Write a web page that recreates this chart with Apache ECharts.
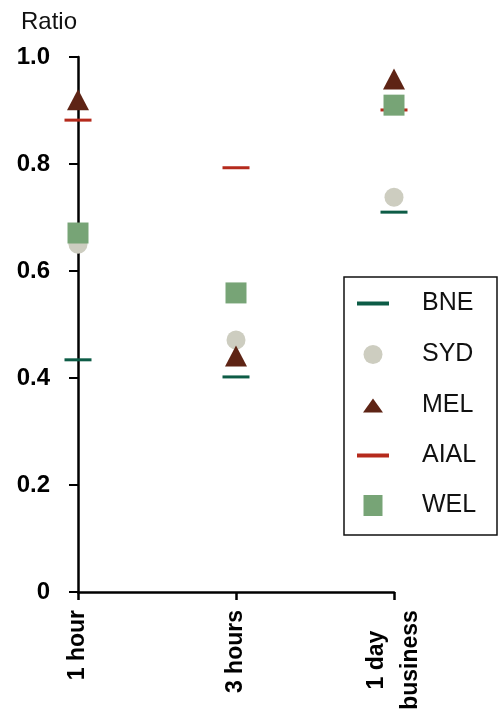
<!DOCTYPE html>
<html>
<head>
<meta charset="utf-8">
<script src="https://cdn.jsdelivr.net/npm/echarts@6/dist/echarts.min.js"></script>
<style>
  html, body { margin: 0; padding: 0; background: #fff; }
  #chart { width: 500px; height: 713px; }
</style>
</head>
<body>
<div id="chart"></div>
<script>
// Response-time ratios per site
const categories = ['1 hour', '3 hours', '1 day\nbusiness'];
const yTicks = [0, 0.2, 0.4, 0.6, 0.8, 1.0];
const BNE  = [0.434, 0.402, 0.710];
const SYD  = [0.650, 0.471, 0.738];
const MEL  = [0.920, 0.441, 0.959];
const AIAL = [0.882, 0.793, 0.901];
const WEL  = [0.671, 0.559, 0.910];

const colors = {
  BNE: '#0d5c46',
  SYD: '#cdcdc0',
  MEL: '#5e2415',
  AIAL: '#b52a1c',
  WEL: '#77a476'
};

const FONT = 'Arial, "Liberation Sans", sans-serif';

// marker style per series, plus legend icon shape and size
const seriesDefs = [
  { name: 'BNE',  data: BNE,  symbol: 'rect',     size: [27, 3],  icon: 'rect',     iw: 32, ih: 4 },
  { name: 'SYD',  data: SYD,  symbol: 'circle',   size: 19,       icon: 'circle',   iw: 19, ih: 19 },
  { name: 'MEL',  data: MEL,  symbol: 'triangle', size: [22, 21], icon: 'triangle', iw: 20, ih: 14 },
  { name: 'AIAL', data: AIAL, symbol: 'rect',     size: [27, 3],  icon: 'rect',     iw: 32, ih: 4 },
  { name: 'WEL',  data: WEL,  symbol: 'rect',     size: 21,       icon: 'rect',     iw: 19, ih: 21 }
];

// legend rows: icon column centre, text column start, row centres
const legendIconX = 373;
const legendTextX = 422;
const legendRowY = [304, 355, 406, 456, 506];

const legends = seriesDefs.map((d, i) => ({
  data: [d.name],
  left: legendIconX - d.iw / 2,
  top: legendRowY[i] - 13,
  padding: 0,
  itemWidth: d.iw,
  itemHeight: d.ih,
  icon: d.icon,
  selectedMode: false,
  formatter: '{t|{name}}',
  textStyle: {
    rich: {
      t: {
        fontFamily: FONT,
        fontSize: 25,
        lineHeight: 26,
        color: '#111',
        padding: [0, 0, 0, legendTextX - 5 - (legendIconX + d.iw / 2)]
      }
    }
  }
}));

const chart = echarts.init(document.getElementById('chart'), null, { renderer: 'canvas' });

chart.setOption({
  animation: false,
  backgroundColor: '#fff',
  title: {
    text: 'Ratio',
    left: 16,
    top: 5,
    textStyle: { fontFamily: FONT, fontSize: 24, fontWeight: 'normal', color: '#111' }
  },
  grid: { left: 78, right: 106, top: 57, bottom: 121, containLabel: false },
  legend: legends,
  graphic: [{
    type: 'rect',
    shape: { x: 344, y: 277, width: 153, height: 258 },
    style: { fill: 'none', stroke: '#111', lineWidth: 1.5 },
    z: 1
  }],
  xAxis: {
    type: 'category',
    data: categories,
    boundaryGap: false,
    axisLine: { lineStyle: { color: '#000', width: 2.5 } },
    axisTick: { show: true, alignWithLabel: true, length: 8, lineStyle: { color: '#000', width: 2.5 } },
    axisLabel: {
      rotate: 90,
      margin: 18,
      interval: 0,
      fontFamily: FONT,
      fontSize: 23,
      fontWeight: 'bold',
      color: '#000',
      lineHeight: 34,
      formatter: function (v) {
        if (v.indexOf('\n') < 0) return v;
        return v.split('\n').map(s => '{c|' + s + '}').join('\n');
      },
      rich: {
        c: { width: 100, align: 'center', fontFamily: FONT, fontSize: 23, fontWeight: 'bold', color: '#000', lineHeight: 34 }
      }
    },
    splitLine: { show: false }
  },
  yAxis: {
    type: 'value',
    min: yTicks[0],
    max: yTicks[yTicks.length - 1],
    interval: 0.2,
    axisLine: { show: true, lineStyle: { color: '#000', width: 2.5 } },
    axisTick: { show: true, length: 9, lineStyle: { color: '#000', width: 2 } },
    axisLabel: {
      margin: 28,
      fontFamily: FONT,
      fontSize: 24,
      fontWeight: 'bold',
      color: '#000',
      formatter: v => (v === 0 ? '0' : v.toFixed(1))
    },
    splitLine: { show: false }
  },
  series: seriesDefs.map(d => ({
    name: d.name,
    type: 'scatter',
    data: d.data,
    symbol: d.symbol,
    symbolSize: d.size,
    clip: false,
    itemStyle: { color: colors[d.name], opacity: 1 },
    emphasis: { disabled: true }
  }))
});
</script>
</body>
</html>
